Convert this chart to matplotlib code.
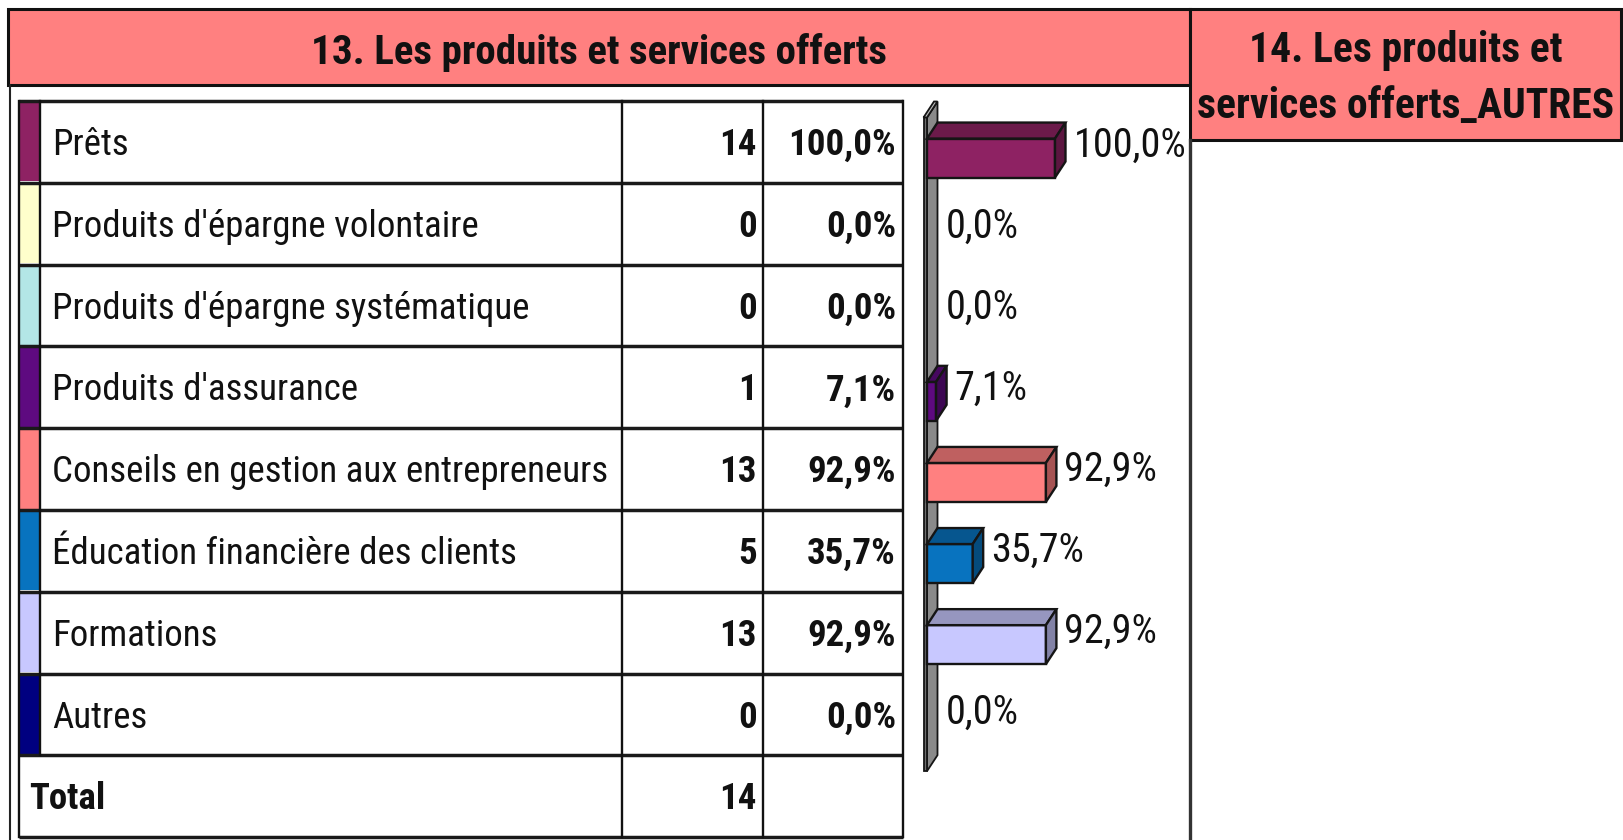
import matplotlib
matplotlib.use("Agg")
import matplotlib.pyplot as plt
from matplotlib import font_manager as fm
from matplotlib.patches import Rectangle, Polygon

# ---------------- data ----------------
categories = ["Prêts", "Produits d'épargne volontaire", "Produits d'épargne systématique",
              "Produits d'assurance", "Conseils en gestion aux entrepreneurs",
              "Éducation financière des clients", "Formations", "Autres"]
counts = [14, 0, 0, 1, 13, 5, 13, 0]
percents = [100.0, 0.0, 0.0, 7.1, 92.9, 35.7, 92.9, 0.0]
total = 14
colors = ["#8E2263", "#FFFFCC", "#B3E6E6", "#5E0A80", "#FF8080", "#0873BF", "#C8C8FF", "#000080"]
title1 = "13. Les produits et services offerts"
title2_lines = ["14. Les produits et", "services offerts_AUTRES"]
total_label = "Total"

# ---------------- fonts ----------------
names = {f.name for f in fm.fontManager.ttflist}
FAM, STRETCH, SCALE = ["DejaVu Sans"], "condensed", 0.86
for cand, sc in (("Liberation Sans Narrow", 1.0), ("Arial Narrow", 1.0),
                 ("Roboto Condensed", 1.0), ("Open Sans Condensed", 0.95)):
    if cand in names:
        FAM, STRETCH, SCALE = [cand, "DejaVu Sans"], "normal", sc
        break
plt.rcParams["font.family"] = FAM
TXT = "#111111"
FS = 26.6 * SCALE        # table text
FS_T1 = 29.5 * SCALE     # main title
FS_T2 = 30.0 * SCALE     # second title
FS_LB = 29.0 * SCALE     # bar labels
CAP = 0.711              # cap height / em


def cap_half_px(size):
    return CAP * size * 100 / 72 / 2


W, H = 1623, 840
fig = plt.figure(figsize=(W / 100, H / 100), dpi=100)
fig.patch.set_facecolor("white")

bg = fig.add_axes([0, 0, 1, 1])
bg.set_xlim(0, W)
bg.set_ylim(H, 0)
bg.axis("off")


def txt(x, yc, s, size, ha="left", bold=False, z=3):
    bg.text(x, yc + cap_half_px(size), s, ha=ha, va="baseline", fontsize=size,
            fontweight="bold" if bold else "normal", fontstretch=STRETCH, color=TXT, zorder=z)


HEAD = "#FF8080"
# header boxes
bg.add_patch(Rectangle((8, 9), 1182, 76, facecolor=HEAD, edgecolor="#111111", lw=2.2, zorder=2))
bg.add_patch(Rectangle((1190, 9), 431, 131, facecolor=HEAD, edgecolor="#111111", lw=2.2, zorder=2))
txt(599, 49, title1, FS_T1, ha="center", bold=True)
for k, line in enumerate(title2_lines):
    txt(1406, 47.5 + 56 * k, line, FS_T2, ha="center", bold=True)

# outer frame lines
bg.plot([10, 10], [85, H], color="#222222", lw=1.5)
bg.plot([1190, 1190], [140, H], color="#333333", lw=2.4)

# ---------------- table ----------------
top = 101.0
rh = 81.8
nrows = len(categories) + 1
x_left, x_strip, x_c1, x_c2, x_c3 = 19, 40, 622, 763, 903
bottom = top + nrows * rh

for i, (lab, c, p, col) in enumerate(zip(categories, counts, percents, colors)):
    y0 = top + i * rh
    bg.add_patch(Rectangle((x_left + 1, y0 + 1.5), x_strip - x_left - 2, rh - 3,
                           facecolor=col, edgecolor="none", zorder=1))
    yc = y0 + rh / 2
    txt(x_strip + 12, yc, lab, FS)
    txt(x_c2 - 6, yc, str(c), FS, ha="right", bold=True)
    txt(x_c3 - 7, yc, f"{p:.1f}".replace(".", ",") + "%", FS, ha="right", bold=True)

yt = top + len(categories) * rh + rh / 2
txt(x_left + 10, yt, total_label, FS, bold=True)
txt(x_c2 - 6, yt, str(total), FS, ha="right", bold=True)

# horizontal lines
for k in range(nrows + 1):
    y = top + k * rh
    bg.plot([x_left, x_c3], [y, y], color="#1a1a1a", lw=2.5, solid_capstyle="butt", zorder=4)
# vertical lines
for x in (x_left, x_c1, x_c2, x_c3):
    bg.plot([x, x], [top, bottom], color="#111111", lw=1.7, zorder=4)
bg.plot([x_strip, x_strip], [top, top + len(categories) * rh], color="#111111", lw=1.7, zorder=4)

# ---------------- 3D bar chart ----------------
x0_px, x100_px = 927, 1055
ytop_px, ybot_px = 117.5, 766.3
n = len(categories)
ax = fig.add_axes([x0_px / W, 1 - ybot_px / H, (x100_px - x0_px) / W, (ybot_px - ytop_px) / H])
ax.set_xlim(0, 100)
ax.set_ylim(n - 0.5, -0.5)
ax.axis("off")

px_x = (x100_px - x0_px) / 100.0
px_y = (ybot_px - ytop_px) / n
dxd = 10.5 / px_x
dyd = -16 / px_y
wd = 3.5 / px_x
h = 39 / px_y


def darker(hexc, f):
    r, g, b = matplotlib.colors.to_rgb(hexc)
    return (r * f, g * f, b * f)


EDGE = "#151515"
# wall
yw0, yw1 = -0.5, n - 0.5 + 0.06
ax.add_patch(Polygon([(0, yw0), (dxd, yw0 + dyd), (dxd, yw1 + dyd), (0, yw1)],
                     closed=True, facecolor="#8A8A8A", edgecolor=EDGE, lw=1.3,
                     clip_on=False, zorder=1))
ax.add_patch(Polygon([(-wd, yw0), (0, yw0), (0, yw1), (-wd, yw1)], closed=True,
                     facecolor="#6E6E6E", edgecolor=EDGE, lw=1.3, clip_on=False, zorder=1))
ax.add_patch(Polygon([(-wd, yw0), (-wd + dxd, yw0 + dyd), (dxd, yw0 + dyd), (0, yw0)],
                     closed=True, facecolor="#BDBDBD", edgecolor=EDGE, lw=1.3,
                     clip_on=False, zorder=1))

ys = list(range(n))
lab_off = cap_half_px(FS_LB) / px_y
for y, v, col in zip(ys, percents, colors):
    if v > 0:
        ax.barh(y, v, height=h, left=0, color=col, edgecolor=EDGE, lw=1.7,
                zorder=3, clip_on=False)
        t = y - h / 2
        b = y + h / 2
        ax.add_patch(Polygon([(0, t), (dxd, t + dyd), (v + dxd, t + dyd), (v, t)], closed=True,
                             facecolor=darker(col, 0.75), edgecolor=EDGE, lw=1.7,
                             clip_on=False, zorder=3))
        ax.add_patch(Polygon([(v, t), (v + dxd, t + dyd), (v + dxd, b + dyd), (v, b)], closed=True,
                             facecolor=darker(col, 0.65), edgecolor=EDGE, lw=1.7,
                             clip_on=False, zorder=3))
    ax.text(v + dxd + 8 / px_x, y + dyd + lab_off, f"{v:.1f}".replace(".", ",") + "%",
            ha="left", va="baseline", fontsize=FS_LB, fontstretch=STRETCH, color=TXT,
            clip_on=False, zorder=5)

fig.savefig("out.png", dpi=100, facecolor="white")
